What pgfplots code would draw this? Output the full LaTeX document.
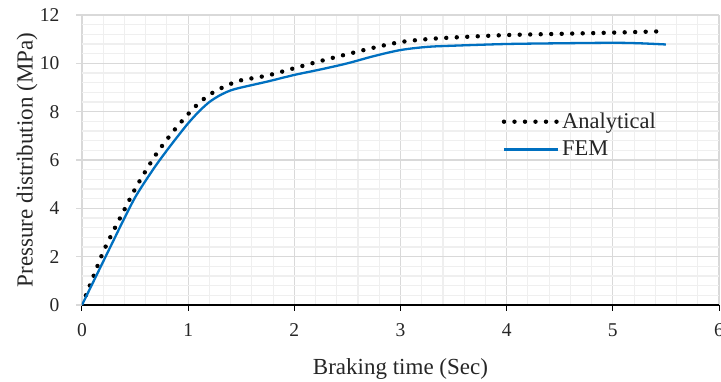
\documentclass[border=0pt]{standalone}
\usepackage{fontspec}
\setmainfont{Liberation Serif}
\usepackage{pgfplots}
\pgfplotsset{compat=1.18}
\definecolor{femblue}{HTML}{0070C0}
\definecolor{majgrid}{HTML}{D9D9D9}
\definecolor{mingrid}{HTML}{EFEFEF}
\begin{document}
\begin{tikzpicture}
\begin{axis}[
  scale only axis, width=637bp, height=290bp,
  xmin=0, xmax=6, ymin=0, ymax=12,
  xtick={0,1,...,6}, ytick={0,2,...,12},
  minor x tick num=4, minor y tick num=4,
  grid=both,
  major grid style={majgrid, line width=1.3bp},
  minor grid style={mingrid, line width=1.1bp},
  axis x line*=bottom, axis y line*=left,
  x axis line style={black, line width=1.3bp, -},
  y axis line style={draw=none},
  tick align=outside,
  major tick length=5.5bp, minor tick length=0bp,
  xtick style={black, line width=1bp},
  ytick style={majgrid, line width=1.3bp},
  /pgf/number format/assume math mode=true,
  tick label style={font=\fontsize{19.5bp}{23bp}\selectfont, text=black!85},
  xticklabel style={yshift=-10bp},
  yticklabel style={xshift=-13.5bp},
  xlabel={Braking time (Sec)},
  ylabel={Pressure distribution (MPa)},
  label style={font=\fontsize{23bp}{27bp}\selectfont, text=black!85},
  xlabel style={at={(axis description cs:0.5,-0.22)}, anchor=center},
  ylabel style={at={(axis description cs:-0.086,0.5)}, anchor=center},
  legend style={draw=none, fill=none, at={(rel axis cs:0.654,0.676)}, anchor=north west,
    font=\fontsize{22.5bp}{26bp}\selectfont, text=black!85, row sep=7bp},
  legend cell align=left,
  legend image code/.code={\draw[#1] (0bp,0bp) -- (54bp,0bp);},
]
\addplot[black, line width=4.4bp, line cap=round, dash pattern=on 0bp off 10.5bp, smooth, tension=0.5] coordinates {
(0,0) (0.1,1.1) (0.2,2.2) (0.3,3.1) (0.4,3.95) (0.5,4.8) (0.6,5.55) (0.7,6.25) (0.8,6.85) (0.9,7.4) (1.0,7.9) (1.1,8.35) (1.2,8.7) (1.3,8.95) (1.4,9.15) (1.5,9.3) (1.75,9.5) (2,9.8) (2.25,10.1) (2.5,10.38) (2.75,10.65) (3,10.88) (3.25,11.0) (3.5,11.07) (4,11.17) (4.5,11.22) (5,11.27) (5.5,11.33)
};
\addlegendentry{Analytical}
\addplot[femblue, line width=2.3bp, smooth, tension=0.5] coordinates {
(0,0) (0.1,0.9) (0.2,1.8) (0.3,2.7) (0.4,3.6) (0.5,4.45) (0.6,5.15) (0.7,5.8) (0.8,6.4) (0.9,6.97) (1.0,7.52) (1.1,8.0) (1.2,8.4) (1.3,8.68) (1.4,8.88) (1.5,9.0) (1.75,9.25) (2,9.52) (2.25,9.75) (2.5,10.0) (2.75,10.3) (3,10.55) (3.25,10.68) (3.5,10.73) (4,10.8) (4.5,10.83) (5,10.85) (5.25,10.83) (5.5,10.78)
};
\addlegendentry{FEM}
\coordinate (ll) at (rel axis cs:0,0);
\coordinate (ur) at (rel axis cs:1,1);
\end{axis}
\pgfresetboundingbox
\useasboundingbox ([shift={(-82bp,-77bp)}]ll) rectangle ([shift={(2bp,15bp)}]ur);
\end{tikzpicture}
\end{document}
